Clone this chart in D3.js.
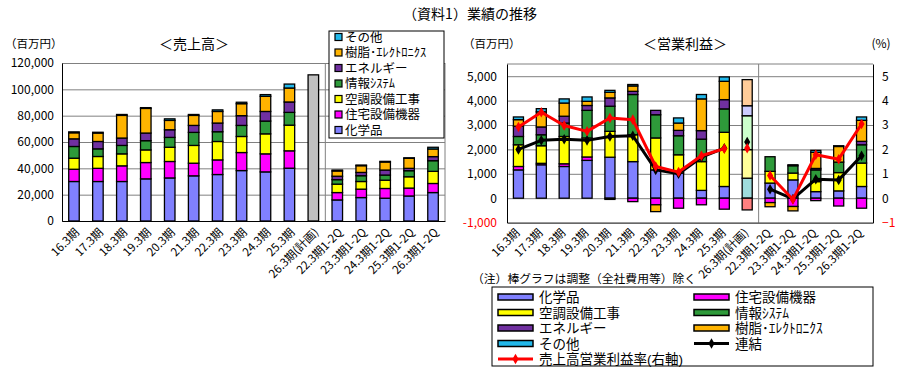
<!DOCTYPE html>
<html><head><meta charset="utf-8">
<script src="https://cdn.jsdelivr.net/npm/d3@7/dist/d3.min.js"></script>
<style>
body{margin:0;background:#fff;}
svg{font-family:"Noto Sans CJK JP","Noto Sans",sans-serif;}
.leg{font-family:"Liberation Sans","Noto Sans CJK JP",sans-serif;}
</style></head><body>
<svg id="c" width="900" height="371"></svg>
<script>
// ---------- data ----------
const categories = ["16.3期","17.3期","18.3期","19.3期","20.3期","21.3期","22.3期","23.3期","24.3期","25.3期","26.3期(計画)","22.3期1-2Q","23.3期1-2Q","24.3期1-2Q","25.3期1-2Q","26.3期1-2Q"];
const segmentNames = ["化学品","住宅設備機器","空調設備工事","情報ｼｽﾃﾑ","エネルギー","樹脂･ｴﾚｸﾄﾛﾆｸｽ","その他"];
const segmentKeys = ["chem","housing","hvac","it","energy","resin","other"];
const segmentColors = ["#8080ff","#ff00ff","#ffff00","#2e9a3a","#7030a0","#ffb400","#22b8ea"];
const planColors = ["#9fdcdc","#ff8080","#ffff99","#ccffcc","#ccccff","#ffcc99","#cce8ff"];
const planIndex = 10;

// 売上高 (百万円)
const salesChem    = [30000,30000,30000,32000,32700,34300,35300,38300,37300,40100,0,16000,17800,17300,19000,21600];
const salesHousing = [9300,10000,11900,12400,12500,9600,11100,13700,13700,13200,0,5600,6400,7400,6000,6900];
const salesHVAC    = [8400,9000,9100,9600,10800,13500,14000,12200,15200,19500,0,6400,5800,6300,8600,9200];
const salesIT      = [8900,5800,6400,7000,7500,9900,7400,8400,9700,9700,0,3400,4400,3900,4600,8100];
const salesEnergy  = [5800,5600,5600,5800,5800,5300,6600,7400,7300,7900,0,2600,2500,3800,1800,3100];
const salesResin   = [4600,6400,17200,18700,7100,7600,8800,9100,11500,10600,0,4000,5100,6100,7600,5800];
const salesOther   = [700,600,700,600,1200,700,1200,1100,1300,3000,0,700,500,500,400,1300];
const salesPlanTotal = 111000;

// 営業利益 (百万円)
const opChem    = [1160,1370,1300,1550,1680,1500,1160,1030,320,480,820,620,750,270,300,480];
const opHousing = [140,60,110,140,-50,-140,-270,-410,-270,-450,-480,-180,-340,-100,-320,-410];
const opHVAC    = [890,720,1120,780,1060,1100,1310,750,1180,2220,1170,480,280,410,750,960];
const opIT      = [340,450,550,1130,1030,1650,950,780,920,960,1390,600,300,480,430,750];
const opEnergy  = [420,320,280,200,340,130,180,220,350,380,410,0,40,60,0,140];
const opResin   = [270,620,540,170,230,220,-280,300,1300,750,1070,-170,-180,660,640,860];
const opOther   = [110,130,170,180,80,60,0,210,180,180,0,0,0,80,30,140];

// 連結 営業利益 (百万円) and 売上高営業利益率 (%)
const consolidated = [2000,2370,2420,2370,2530,2560,1160,1000,1680,2050,2300,370,-30,780,750,1740];
const margin       = [2.92,3.52,2.98,2.74,3.29,3.22,1.30,1.07,1.74,2.03,2.05,0.93,-0.05,1.78,1.60,3.04];

const salesTicks = [0,20000,40000,60000,80000,100000,120000];
const opTicks = [-1000,0,1000,2000,3000,4000,5000];
const pctTicks = [-1,0,1,2,3,4,5];

// ---------- helpers ----------
const svg = d3.select("#c");
const fmt = d => d3.format(",")(d).replace("\u2212","-");
const sales = [salesChem,salesHousing,salesHVAC,salesIT,salesEnergy,salesResin,salesOther];
const ops = [opChem,opHousing,opHVAC,opIT,opEnergy,opResin,opOther];
const rows = arr => categories.map((c,i)=>{const o={cat:c,i:i}; segmentKeys.forEach((k,j)=>o[k]=arr[j][i]); return o;});
const stacker = d3.stack().keys(segmentKeys).offset(d3.stackOffsetDiverging);

// ---------- title ----------
svg.append("text").attr("x",470).attr("y",19).attr("text-anchor","middle")
  .attr("font-size",14).text("（資料1）業績の推移");

// ================= LEFT CHART =================
const L = {x0:62, x1:445, y0:63, y1:221};
const xL = d3.scaleBand().domain(categories).range([L.x0,L.x1]).paddingInner(0.56).paddingOuter(0.28);
const yL = d3.scaleLinear().domain([0,120000]).range([L.y1,L.y0]);

svg.append("g").attr("transform",`translate(${L.x0},0)`)
  .call(d3.axisLeft(yL).tickValues(salesTicks).tickSize(-(L.x1-L.x0)).tickFormat(""))
  .call(g=>g.select(".domain").remove())
  .call(g=>g.selectAll("line").attr("stroke","#808080"));
svg.append("line").attr("x1",L.x1).attr("x2",L.x1).attr("y1",L.y0).attr("y2",L.y1).attr("stroke","#808080");
const sepL = (xL(categories[10])+xL.bandwidth()+xL(categories[11]))/2;
svg.append("line").attr("x1",sepL).attr("x2",sepL).attr("y1",L.y0).attr("y2",L.y1).attr("stroke","#808080");

const salesStack = stacker(rows(sales));
svg.append("g").selectAll("g").data(salesStack).join("g")
  .attr("fill",(d,j)=>segmentColors[j])
  .selectAll("rect").data(d=>d.filter(p=>p.data.i!==planIndex && p[1]!==p[0])).join("rect")
  .attr("x",p=>xL(p.data.cat)).attr("width",xL.bandwidth())
  .attr("y",p=>yL(Math.max(p[0],p[1]))).attr("height",p=>Math.abs(yL(p[0])-yL(p[1])))
  .attr("stroke","#000").attr("stroke-width",1.3);
svg.append("rect").attr("x",xL(categories[planIndex])).attr("width",xL.bandwidth())
  .attr("y",yL(salesPlanTotal)).attr("height",yL(0)-yL(salesPlanTotal))
  .attr("fill","#c0c0c0").attr("stroke","#000").attr("stroke-width",1.3);

svg.append("g").attr("transform",`translate(${L.x0},0)`)
  .call(d3.axisLeft(yL).tickValues(salesTicks).tickSize(0).tickPadding(8).tickFormat(fmt))
  .call(g=>g.select(".domain").attr("stroke","#000"))
  .call(g=>g.selectAll("text").attr("font-size",12).attr("fill","#000").attr("font-family",'"Noto Sans CJK JP",sans-serif'));
svg.append("g").attr("transform",`translate(0,${L.y1})`)
  .call(d3.axisBottom(xL).tickSize(0).tickFormat(""))
  .call(g=>g.select(".domain").attr("stroke","#000"));
svg.append("g").selectAll("text").data(categories).join("text")
  .attr("transform",d=>`translate(${xL(d)+xL.bandwidth()/2+6},${L.y1+12}) rotate(-45)`)
  .attr("text-anchor","end").attr("font-size",11.5).text(d=>d);

svg.append("text").attr("x",5).attr("y",48).attr("font-size",11.5).text("（百万円）");
svg.append("text").attr("x",194).attr("y",49).attr("text-anchor","middle").attr("font-size",14).text("＜売上高＞");

// left legend
const lg = svg.append("g").attr("class","leg");
lg.append("rect").attr("x",329).attr("y",31).attr("width",115).attr("height",107).attr("fill","#fff").attr("stroke","#000");
const legOrder = [6,5,4,3,2,1,0];
legOrder.forEach((j,k)=>{
  const y = 37 + k*15.5;
  lg.append("rect").attr("x",335).attr("y",y-3.5).attr("width",7).attr("height",7)
    .attr("fill",segmentColors[j]).attr("stroke","#000").attr("stroke-width",1.2);
  lg.append("text").attr("x",345).attr("y",y+4.5).attr("font-size",12.5).text(segmentNames[j]);
});

// ================= RIGHT CHART =================
const R = {x0:507, x1:873, y0:64, y1:222.6};
const xR = d3.scaleBand().domain(categories).range([R.x0,R.x1]).paddingInner(0.56).paddingOuter(0.28);
const yR = d3.scaleLinear().domain([-1000,5500]).range([R.y1,R.y0]);
const yR2 = d3.scaleLinear().domain([-1,5.5]).range([R.y1,R.y0]);

svg.append("g").attr("transform",`translate(${R.x0},0)`)
  .call(d3.axisLeft(yR).tickValues(opTicks.slice(1)).tickSize(-(R.x1-R.x0)).tickFormat(""))
  .call(g=>g.select(".domain").remove())
  .call(g=>g.selectAll("line").attr("stroke","#808080"));
svg.append("line").attr("x1",R.x0).attr("x2",R.x1).attr("y1",R.y0).attr("y2",R.y0).attr("stroke","#808080");
const sepR = (xR(categories[10])+xR.bandwidth()+xR(categories[11]))/2;
svg.append("line").attr("x1",sepR).attr("x2",sepR).attr("y1",R.y0).attr("y2",R.y1).attr("stroke","#808080");

const opStack = stacker(rows(ops));
svg.append("g").selectAll("g").data(opStack).join("g")
  .selectAll("rect").data((d,j)=>d.map(p=>({p:p,j:j})).filter(o=>o.p[1]!==o.p[0])).join("rect")
  .attr("fill",o=>o.p.data.i===planIndex?planColors[o.j]:segmentColors[o.j])
  .attr("x",o=>xR(o.p.data.cat)).attr("width",xR.bandwidth())
  .attr("y",o=>yR(Math.max(o.p[0],o.p[1]))).attr("height",o=>Math.abs(yR(o.p[0])-yR(o.p[1])))
  .attr("stroke","#000").attr("stroke-width",1.3);

svg.append("g").attr("transform",`translate(${R.x0},0)`)
  .call(d3.axisLeft(yR).tickValues(opTicks).tickSize(0).tickPadding(10).tickFormat(fmt))
  .call(g=>g.select(".domain").attr("stroke","#000"))
  .call(g=>g.selectAll("text").attr("font-size",12).attr("fill",d=>d<0?"#ff0000":"#000").attr("font-family",'"Noto Sans CJK JP",sans-serif'));
svg.append("g").attr("transform",`translate(${R.x1},0)`)
  .call(d3.axisRight(yR2).tickValues(pctTicks).tickSize(0).tickPadding(9).tickFormat(d3.format("d")))
  .call(g=>g.select(".domain").attr("stroke","#000"))
  .call(g=>g.selectAll("text").attr("font-size",12).attr("fill",d=>d<0?"#ff0000":"#000").attr("font-family",'"Noto Sans CJK JP",sans-serif'));
svg.append("g").attr("transform",`translate(0,${R.y1})`)
  .call(d3.axisBottom(xR).tickSize(0).tickFormat(""))
  .call(g=>g.select(".domain").attr("stroke","#000"));
svg.append("g").selectAll("text").data(categories).join("text")
  .attr("transform",d=>`translate(${xR(d)+xR.bandwidth()/2+2},${R.y1+11}) rotate(-45)`)
  .attr("text-anchor","end").attr("font-size",11.5).text(d=>d);

const cx = i => xR(categories[i])+xR.bandwidth()/2;
const annual = d3.range(0,10), half = d3.range(11,16);
const diamond = d3.symbol().type(d3.symbolDiamond).size(32);
function drawSeries(vals, yScale, color){
  const line = d3.line().x(i=>cx(i)).y(i=>yScale(vals[i]));
  [annual,half].forEach(seg=>{
    svg.append("path").attr("d",line(seg)).attr("fill","none").attr("stroke",color).attr("stroke-width",3).attr("stroke-linejoin","round");
  });
  svg.append("g").selectAll("path").data(d3.range(0,16)).join("path")
    .attr("transform",i=>`translate(${cx(i)},${yScale(vals[i])})`).attr("d",diamond).attr("fill",color);
}
drawSeries(consolidated, yR, "#000");
drawSeries(margin, yR2, "#ff0000");

svg.append("text").attr("x",463).attr("y",48).attr("font-size",11.5).text("（百万円）");
svg.append("text").attr("x",685).attr("y",49).attr("text-anchor","middle").attr("font-size",14).text("＜営業利益＞");
svg.append("text").attr("x",881).attr("y",48).attr("text-anchor","middle").attr("font-size",12).text("(%)");

svg.append("text").attr("x",472).attr("y",283).attr("font-size",11.8).text("（注）棒グラフは調整（全社費用等）除く");

// bottom legend
const bl = svg.append("g").attr("class","leg");
bl.append("rect").attr("x",492).attr("y",287).attr("width",381).attr("height",79).attr("fill","none").attr("stroke","#000");
const legItems = [
  {c:0,x:498,r:0},{c:1,x:694,r:0},
  {c:2,x:498,r:1},{c:3,x:694,r:1},
  {c:4,x:498,r:2},{c:5,x:694,r:2},
  {c:6,x:498,r:3}
];
legItems.forEach(o=>{
  const y = 297 + o.r*15.5;
  bl.append("rect").attr("x",o.x).attr("y",y-3).attr("width",35).attr("height",6)
    .attr("fill",segmentColors[o.c]).attr("stroke","#000").attr("stroke-width",1.5);
  bl.append("text").attr("x",o.x+41).attr("y",y+5).attr("font-size",13.5).text(segmentNames[o.c]);
});
[[694,3,"#000","連結"],[498,4,"#ff0000","売上高営業利益率(右軸)"]].forEach(([x,r,col,t])=>{
  const y = 297 + r*15.5;
  bl.append("line").attr("x1",x).attr("x2",x+35).attr("y1",y).attr("y2",y).attr("stroke",col).attr("stroke-width",3);
  bl.append("path").attr("transform",`translate(${x+17.5},${y})`).attr("d",diamond).attr("fill",col);
  bl.append("text").attr("x",x+41).attr("y",y+5).attr("font-size",13.5).text(t);
});
</script>
</body></html>
